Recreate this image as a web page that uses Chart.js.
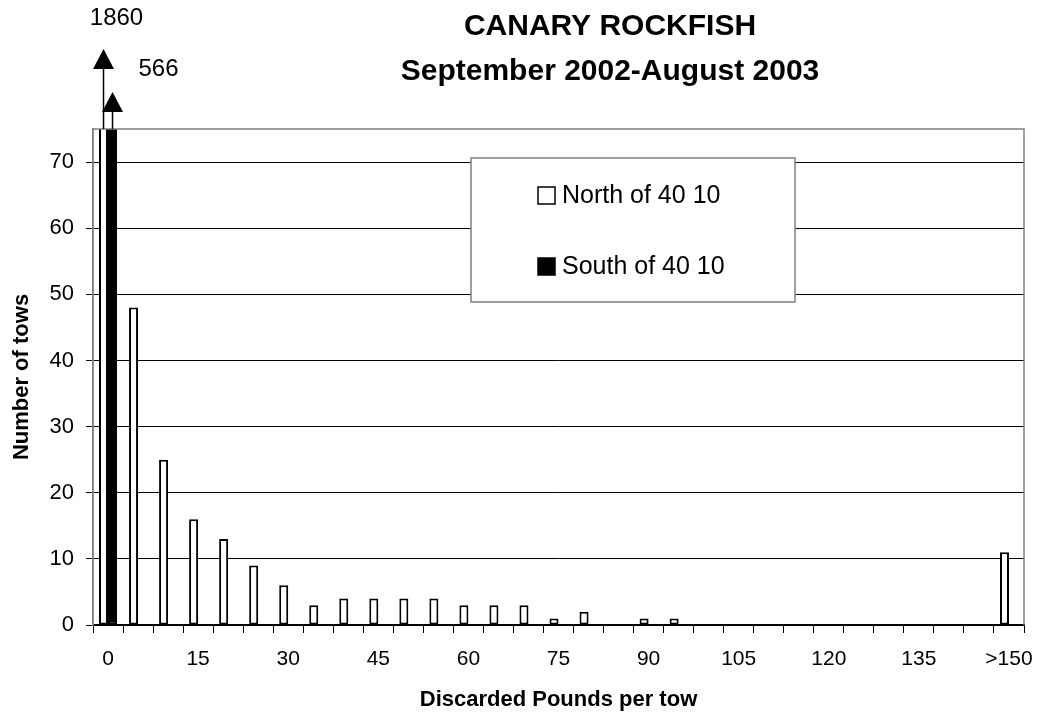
<!DOCTYPE html>
<html>
<head>
<meta charset="utf-8">
<script src="https://cdn.jsdelivr.net/npm/chart.js@4.4.0/dist/chart.umd.min.js"></script>
<style>
    html, body { margin: 0; padding: 0; background: #fff; }
    #wrap { width: 1038px; height: 714px; position: relative; }
</style>
</head>
<body>
<div id="wrap"><canvas id="chart"></canvas></div>
<script>
// Data
const categories = ['0', '5', '10', '15', '20', '25', '30', '35', '40', '45',
    '50', '55', '60', '65', '70', '75', '80', '85', '90', '95',
    '100', '105', '110', '115', '120', '125', '130', '135', '140', '145', '>150'];
const northTows = [1860, 48, 25, 16, 13, 9, 6, 3, 4, 4,
    4, 4, 3, 3, 3, 1, 2, 0, 1, 1,
    0, 0, 0, 0, 0, 0, 0, 0, 0, 0, 11];
const southTows = [566, 0, 0, 0, 0, 0, 0, 0, 0, 0,
    0, 0, 0, 0, 0, 0, 0, 0, 0, 0,
    0, 0, 0, 0, 0, 0, 0, 0, 0, 0, 0];
const seriesNames = ['North of 40 10', 'South of 40 10'];
const titleLines = ['CANARY ROCKFISH', 'September 2002-August 2003'];
const yMax = 75;

const FONT = "'Liberation Sans', Arial, sans-serif";

// Title, drawn where the original sits (right of the plot centre)
const titlePlugin = {
    id: 'twoLineTitle',
    afterDraw(chart) {
        const ctx = chart.ctx;
        ctx.save();
        ctx.fillStyle = '#000';
        ctx.font = `bold 30px ${FONT}`;
        ctx.textAlign = 'center';
        ctx.textBaseline = 'middle';
        ctx.fillText(titleLines[0], 610, 27);
        ctx.fillText(titleLines[1], 610, 72);
        ctx.restore();
    }
};

// Grey frame around the plot
const framePlugin = {
    id: 'plotFrame',
    afterDatasetsDraw(chart) {
        const { ctx, chartArea: a } = chart;
        ctx.save();
        ctx.strokeStyle = '#808080';
        ctx.lineWidth = 1.5;
        ctx.beginPath();
        ctx.moveTo(a.left, a.bottom);
        ctx.lineTo(a.left, a.top);
        ctx.lineTo(a.right, a.top);
        ctx.lineTo(a.right, a.bottom);
        ctx.stroke();
        ctx.restore();
    }
};

// Arrows for the off-scale bars, with their real values
const arrowPlugin = {
    id: 'offScale',
    afterDatasetsDraw(chart, args, opts) {
        const { ctx, chartArea: a } = chart;
        const yScale = chart.scales.y;
        chart.data.datasets.forEach((ds, di) => {
            const meta = chart.getDatasetMeta(di);
            ds.data.forEach((v, i) => {
                if (v == null || v <= yScale.max) return;
                const x = meta.data[i].x;
                const tip = a.top - opts.rise[di];
                ctx.save();
                ctx.strokeStyle = '#000';
                ctx.fillStyle = '#000';
                ctx.lineWidth = 1.5;
                ctx.beginPath();
                ctx.moveTo(x, a.top);
                ctx.lineTo(x, tip + 18);
                ctx.stroke();
                ctx.beginPath();
                ctx.moveTo(x, tip);
                ctx.lineTo(x - 10.5, tip + 20);
                ctx.lineTo(x + 10.5, tip + 20);
                ctx.closePath();
                ctx.fill();
                ctx.font = `24px ${FONT}`;
                ctx.textAlign = 'center';
                ctx.textBaseline = 'middle';
                ctx.fillText(String(v), x + opts.labelDx[di], tip + opts.labelDy[di]);
                ctx.restore();
            });
        });
    }
};

// Legend box inside the plot
const legendPlugin = {
    id: 'boxLegend',
    afterDraw(chart) {
        const { ctx, chartArea: a } = chart;
        const left = a.left + 378, top = a.top + 29, w = 324, h = 144;
        ctx.save();
        ctx.fillStyle = '#fff';
        ctx.fillRect(left, top, w, h);
        ctx.strokeStyle = '#808080';
        ctx.lineWidth = 1.5;
        ctx.strokeRect(left, top, w, h);
        chart.data.datasets.forEach((ds, i) => {
            const cy = top + 37 + i * 71;
            ctx.fillStyle = ds.backgroundColor;
            ctx.fillRect(left + 67, cy - 8, 17, 17);
            ctx.strokeStyle = '#000';
            ctx.lineWidth = 1.5;
            ctx.strokeRect(left + 67, cy - 8, 17, 17);
            ctx.fillStyle = '#000';
            ctx.font = `25px ${FONT}`;
            ctx.textAlign = 'left';
            ctx.textBaseline = 'middle';
            ctx.fillText(ds.label, left + 91, cy + 1);
        });
        ctx.restore();
    }
};

const ctx = document.getElementById('chart').getContext('2d');
new Chart(ctx, {
    type: 'bar',
    data: {
        labels: categories,
        datasets: [
            {
                label: seriesNames[0],
                data: northTows,
                backgroundColor: '#ffffff',
                borderColor: '#000000',
                borderWidth: 2,
                borderSkipped: false,
                categoryPercentage: 0.6,
                barPercentage: 1.0,
                clip: 0
            },
            {
                label: seriesNames[1],
                data: southTows,
                backgroundColor: '#000000',
                borderColor: '#000000',
                borderWidth: 2,
                borderSkipped: false,
                categoryPercentage: 0.6,
                barPercentage: 1.0,
                clip: 0
            }
        ]
    },
    options: {
        responsive: true,
        maintainAspectRatio: false,
        animation: false,
        layout: { padding: { top: 129, right: 14, left: 0, bottom: 0 } },
        plugins: {
            legend: { display: false },
            tooltip: { enabled: false },
            offScale: { rise: [80, 37], labelDx: [13, 46], labelDy: [-31, -23] }
        },
        scales: {
            x: {
                afterFit: (s) => {
                    s.height = 89;
                    s.paddingLeft = 0;
                    s.paddingRight = 0;
                },
                grid: {
                    offset: true,
                    drawOnChartArea: false,
                    drawTicks: true,
                    tickLength: 8,
                    color: '#000'
                },
                border: { display: true, color: '#000', width: 1.5 },
                ticks: {
                    autoSkip: false,
                    maxRotation: 0,
                    padding: 14,
                    color: '#000',
                    font: { family: FONT, size: 21 },
                    callback: function (val, idx) {
                        return idx % 3 === 0 ? categories[idx] : '';
                    }
                },
                title: {
                    display: true,
                    text: 'Discarded Pounds per tow',
                    color: '#000',
                    font: { family: FONT, size: 22, weight: 'bold' },
                    padding: { top: 0, bottom: 1 }
                }
            },
            y: {
                min: 0,
                max: yMax,
                afterFit: (s) => {
                    s.width = 93;
                    s.paddingTop = 0;
                    s.paddingBottom = 0;
                },
                grid: {
                    color: '#000',
                    lineWidth: 1,
                    tickLength: 7
                },
                border: { display: true, color: '#808080', width: 1.5 },
                ticks: {
                    stepSize: 10,
                    includeBounds: false,
                    padding: 12,
                    color: '#000',
                    font: { family: FONT, size: 22 }
                },
                title: {
                    display: true,
                    text: 'Number of tows',
                    color: '#000',
                    font: { family: FONT, size: 22, weight: 'bold' },
                    padding: { top: 9, bottom: 0 }
                }
            }
        }
    },
    plugins: [titlePlugin, framePlugin, arrowPlugin, legendPlugin]
});
</script>
</body>
</html>
